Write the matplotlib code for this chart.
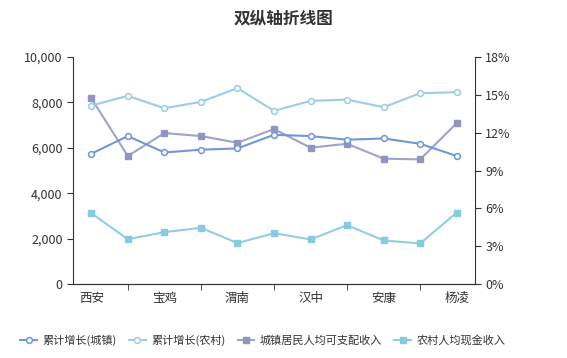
import matplotlib
matplotlib.use('Agg')
import matplotlib.pyplot as plt
from matplotlib.ticker import FuncFormatter, FixedLocator
import numpy as np

plt.rcParams['font.family'] = ['Noto Sans CJK SC', 'DejaVu Sans']

cities = ['西安', '铜川', '宝鸡', '咸阳', '渭南', '延安', '汉中', '榆林', '安康', '商洛', '杨凌']
# growth (%) on right axis
growth_town = [10.33, 11.73, 10.43, 10.65, 10.75, 11.83, 11.73, 11.44, 11.54, 11.12, 10.15]
growth_rural = [14.15, 14.92, 13.94, 14.44, 15.53, 13.73, 14.52, 14.62, 14.02, 15.13, 15.21]
# income on left axis
income_town = [8186, 5639, 6649, 6517, 6223, 6825, 6003, 6179, 5520, 5490, 7088]
income_rural = [3118, 1976, 2284, 2477, 1801, 2240, 1963, 2591, 1919, 1787, 3149]

W, H = 567, 358
fig = plt.figure(figsize=(W / 100, H / 100), dpi=100)
ax = fig.add_axes([73 / W, 1 - 284 / H, (475 - 73) / W, (284 - 57) / H])
ax2 = ax.twinx()

x = np.arange(len(cities))
c_town = '#6e98d8'
c_rural = '#9dcbea'
c_inc_town = '#a0a4c6'
c_inc_rural = '#8fcfe2'

l3, = ax.plot(x, income_town, color=c_inc_town, lw=1.5, marker='s', ms=4,
              mfc='#9196bf', mec='#9196bf', label='城镇居民人均可支配收入')
l4, = ax.plot(x, income_rural, color=c_inc_rural, lw=1.5, marker='s', ms=4,
              mfc='#86cbe0', mec='#86cbe0', label='农村人均现金收入')
l1, = ax2.plot(x, growth_town, color=c_town, lw=1.5, marker='o', ms=4.2,
               mfc='white', mec=c_town, mew=1.1, label='累计增长(城镇)')
l2, = ax2.plot(x, growth_rural, color=c_rural, lw=1.5, marker='o', ms=4.2,
               mfc='white', mec=c_rural, mew=1.1, label='累计增长(农村)')

ax.set_xlim(-0.5, len(cities) - 0.5)
ax.set_ylim(0, 10000)
ax2.set_ylim(0, 18)
ax.set_yticks(np.arange(0, 10001, 2000))
ax2.set_yticks(np.arange(0, 19, 3))
ax.yaxis.set_major_formatter(FuncFormatter(lambda v, p: f'{int(v):,}'))
ax2.yaxis.set_major_formatter(FuncFormatter(lambda v, p: f'{int(v)}%'))

ax.set_xticks(x[::2])
ax.set_xticklabels(cities[::2])
ax.xaxis.set_minor_locator(FixedLocator(x[1::2]))

for a in (ax, ax2):
    a.spines['top'].set_visible(False)
    a.tick_params(labelsize=9, colors='#333333', length=4)
    for s in a.spines.values():
        s.set_color('#333333')
ax.tick_params(axis='x', which='major', length=0, pad=6)
ax.tick_params(axis='x', which='minor', length=4, color='#333333')
ax2.spines['left'].set_visible(False)
ax.spines['right'].set_visible(False)

fig.text(0.5, 1 - 18 / H, '双纵轴折线图', ha='center', va='center',
         fontsize=12, fontweight='bold', color='#333333')

fig.legend(handles=[l1, l2, l3, l4], loc='center', bbox_to_anchor=(263 / W, 1 - 340 / H),
           ncol=4, frameon=False, fontsize=8, handlelength=1.5, handletextpad=0.5,
           columnspacing=1.1, labelcolor='#333333')

fig.savefig('out.png', dpi=100)
